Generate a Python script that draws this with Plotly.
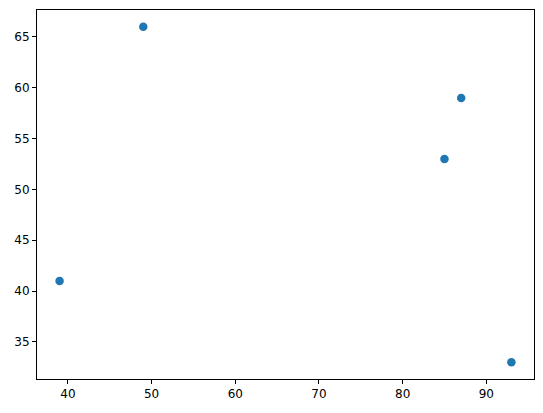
import plotly.graph_objects as go

x_vals = [49, 87, 85, 39, 93]
y_vals = [66, 59, 53, 41, 33]
x_ticks = [40, 50, 60, 70, 80, 90]
y_ticks = [35, 40, 45, 50, 55, 60, 65]

fig = go.Figure(go.Scatter(
    x=x_vals, y=y_vals, mode="markers",
    marker=dict(color="#1f77b4", size=8.5, line=dict(width=0)),
))

axis_common = dict(
    showline=True, linecolor="black", linewidth=1, mirror=True,
    ticks="outside", ticklen=4, tickwidth=1, tickcolor="black",
    showgrid=False, zeroline=False, automargin=False,
    tickfont=dict(family="DejaVu Sans", size=12, color="black"),
)

fig.update_layout(
    width=543, height=413,
    margin=dict(l=37, r=9, t=10, b=34, autoexpand=False),
    plot_bgcolor="white", paper_bgcolor="white",
    showlegend=False,
    xaxis=dict(range=[36.3, 95.7], tickvals=x_ticks, **axis_common),
    yaxis=dict(range=[31.35, 67.65], tickvals=y_ticks, **axis_common),
)

fig.write_html(
    "out.html",
    config={"displayModeBar": False},
    post_script="document.body.style.margin='0';document.body.style.overflow='hidden';",
)
